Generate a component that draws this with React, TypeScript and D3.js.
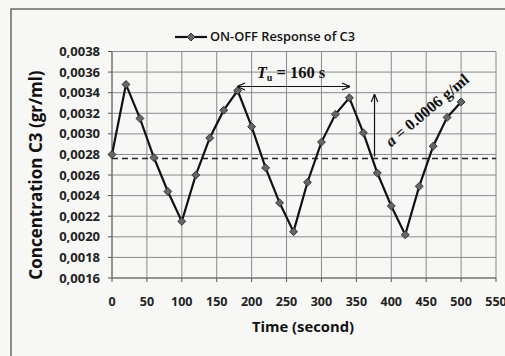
import * as d3 from "d3";

// time (s) and C3 concentration
const times = [0, 20, 40, 60, 80, 100, 120, 140, 160, 180, 200, 220, 240, 260, 280, 300, 320, 340, 360, 380, 400, 420, 440, 460, 480, 500];
const conc = [
  0.0028, 0.00348, 0.00315, 0.00277, 0.00244, 0.00215, 0.0026, 0.00296, 0.00323, 0.00342,
  0.00307, 0.00267, 0.00233, 0.00205, 0.00253, 0.00292, 0.00319, 0.00335, 0.00301, 0.00262,
  0.0023, 0.00202, 0.00249, 0.00288, 0.00316, 0.00331,
];
const xTicks = [0, 50, 100, 150, 200, 250, 300, 350, 400, 450, 500, 550];
const yTicks = [0.0016, 0.0018, 0.002, 0.0022, 0.0024, 0.0026, 0.0028, 0.003, 0.0032, 0.0034, 0.0036, 0.0038];
const meanLevel = 0.00276;
const periodFrom = 180;
const periodTo = 340;
const periodLevel = 0.00346;
const ampTime = 376;
const ampTop = 0.00338;
const ampBottom = 0.00278;

const W = 505;
const H = 356;
const sans = "'Open Sans', sans-serif";
const serif = "'Liberation Serif', 'DejaVu Serif', serif";

const x = d3.scaleLinear().domain([0, 550]).range([112, 496]);
const y = d3.scaleLinear().domain([0.0016, 0.0038]).range([278, 51.5]);

const fmt = (v: number) => v.toFixed(4).replace(".", ",");

const line = d3
  .line<number>()
  .x((d, i) => x(times[i]))
  .y((d) => y(d));

const diamond = d3.symbol().type(d3.symbolDiamond2).size(40)();

export default function App() {
  const pts = conc.map((c, i) => ({ t: times[i], c }));
  const axx = x(periodFrom);
  const axx2 = x(periodTo);
  const ay = y(periodLevel);
  const vx = x(ampTime);

  return (
    <svg width={W} height={H} style={{ position: "absolute", left: 0, top: 0, background: "#f7f7f5" }}>
      <defs>
        <marker id="arr" viewBox="0 0 10 10" refX="9" refY="5" markerWidth="7" markerHeight="7" orient="auto-start-reverse">
          <path d="M0,1 L10,5 L0,9" fill="none" stroke="#111" strokeWidth={1.4} />
        </marker>
      </defs>
      <rect x={11} y={9} width={520} height={360} fill="none" stroke="#444" strokeWidth={1.2} />

      {/* grid */}
      {yTicks.map((v) => (
        <line key={"h" + v} x1={x(0)} x2={x(550)} y1={y(v)} y2={y(v)} stroke="#8a8a8a" strokeWidth={1} />
      ))}
      {xTicks.map((v) => (
        <line key={"v" + v} x1={x(v)} x2={x(v)} y1={y(0.0038)} y2={y(0.0016)} stroke="#8a8a8a" strokeWidth={1} />
      ))}
      {yTicks.map((v) => (
        <line key={"yt" + v} x1={x(0) - 4} x2={x(0)} y1={y(v)} y2={y(v)} stroke="#555" />
      ))}
      {xTicks.map((v) => (
        <line key={"xt" + v} x1={x(v)} x2={x(v)} y1={y(0.0016)} y2={y(0.0016) + 4} stroke="#555" />
      ))}
      <line x1={x(0)} x2={x(0)} y1={y(0.0038)} y2={y(0.0016)} stroke="#666" />
      <line x1={x(0)} x2={x(550)} y1={y(0.0016)} y2={y(0.0016)} stroke="#666" />

      {/* tick labels */}
      {yTicks.map((v) => (
        <text key={"yl" + v} x={100} y={y(v)} dy="0.35em" textAnchor="end" fontFamily={sans} fontWeight={700} fontSize={13} fill="#222">
          {fmt(v)}
        </text>
      ))}
      {xTicks.map((v) => (
        <text key={"xl" + v} x={x(v)} y={306} textAnchor="middle" fontFamily={sans} fontWeight={700} fontSize={12.5} fill="#222">
          {v}
        </text>
      ))}

      {/* mean level */}
      <line x1={x(0)} x2={x(550)} y1={y(meanLevel)} y2={y(meanLevel)} stroke="#222" strokeWidth={1.6} strokeDasharray="6,4" />

      {/* series */}
      <path d={line(conc) || ""} fill="none" stroke="#111" strokeWidth={2.2} />
      {pts.map((p) => (
        <path key={p.t} d={diamond || ""} transform={`translate(${x(p.t)},${y(p.c)})`} fill="#666" stroke="#333" strokeWidth={1} />
      ))}

      {/* period annotation */}
      <line x1={axx} x2={axx2} y1={ay} y2={ay} stroke="#111" strokeWidth={1.2} markerStart="url(#arr)" markerEnd="url(#arr)" />
      <text x={291} y={78} textAnchor="middle" fontFamily={serif} fontWeight={700} fontSize={16.5} fill="#111">
        <tspan fontStyle="italic">T</tspan>
        <tspan fontSize={10} dy={3}>u</tspan>
        <tspan dy={-3}> = 160 s</tspan>
      </text>

      {/* amplitude annotation */}
      <line x1={vx} x2={vx} y1={y(ampBottom)} y2={y(ampTop)} stroke="#111" strokeWidth={1.2} markerEnd="url(#arr)" />
      <text transform="translate(427,110) rotate(-40)" textAnchor="middle" dy="0.35em" fontFamily={serif} fontWeight={700} fontSize={16} fill="#111">
        <tspan fontStyle="italic">a</tspan> = 0.0006 g/ml
      </text>

      {/* legend */}
      <line x1={175} x2={207} y1={37} y2={37} stroke="#111" strokeWidth={2.2} />
      <path d={diamond || ""} transform="translate(191,37)" fill="#666" stroke="#333" />
      <text x={210} y={37} dy="0.35em" fontFamily={sans} fontWeight={600} fontSize={12.8} fill="#111">
        ON-OFF Response of C3
      </text>

      {/* axis titles */}
      <text transform="translate(36,175) rotate(-90)" textAnchor="middle" fontFamily={sans} fontWeight={700} fontSize={17} dy="0.35em" fill="#111">
        Concentration C3 (gr/ml)
      </text>
      <text x={303} y={332} textAnchor="middle" fontFamily={sans} fontWeight={700} fontSize={14.8} fill="#111">
        Time (second)
      </text>
    </svg>
  );
}
